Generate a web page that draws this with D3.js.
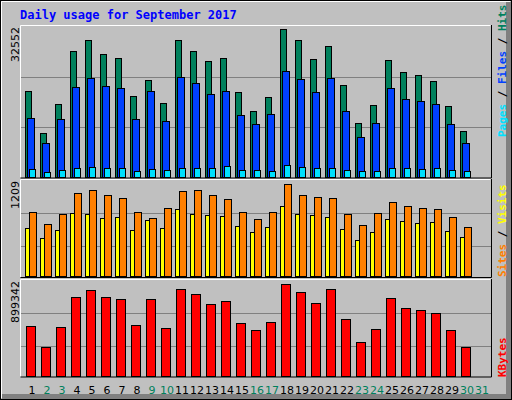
<!DOCTYPE html>
<html><head><meta charset="utf-8">
<script src="https://cdn.jsdelivr.net/npm/d3@7"></script>
<style>body{margin:0;background:#fff}</style>
</head><body>
<script>
const days = d3.range(1, 32)
const weekends = [2, 3, 9, 10, 16, 17, 23, 24, 30, 31]
const hits = [18923, 9583, 15986, 27688, 30117, 27026, 26143, 17752, 21285, 16207, 30117, 27688, 25480, 26143, 18636, 14440, 17532, 32552, 30117, 25922, 28792, 20181, 11791, 15765, 25701, 23052, 22389, 21064, 15544, 10024]
const files = [12895, 7375, 12674, 19740, 21727, 19960, 19519, 12674, 18856, 12232, 21948, 20623, 18194, 18856, 13557, 11570, 13778, 23272, 21506, 18636, 21727, 14440, 8700, 11791, 19519, 17090, 16648, 15986, 11570, 7375]
const pages = [1634, 972, 1413, 1855, 2076, 1855, 1855, 1192, 1634, 1413, 1855, 1855, 1855, 2296, 1413, 1413, 1192, 2517, 2076, 1855, 1855, 1413, 1192, 1192, 1855, 1855, 1634, 1855, 1413, 1192]
const sites = [633, 501, 606, 826, 813, 761, 774, 606, 734, 633, 879, 813, 800, 787, 655, 576, 642, 919, 813, 800, 774, 616, 471, 576, 747, 721, 695, 708, 589, 510]
const visits = [840, 681, 813, 1090, 1130, 1064, 1024, 840, 761, 892, 1116, 1130, 1064, 1011, 840, 747, 840, 1209, 1064, 1037, 1024, 813, 668, 826, 971, 919, 892, 879, 774, 642]
const kbytes = [484000, 277000, 474000, 771000, 840000, 771000, 751000, 494000, 751000, 464000, 850000, 800000, 702000, 731000, 514000, 445000, 524000, 899342, 820000, 712000, 850000, 553000, 326000, 455000, 761000, 662000, 642000, 613000, 445000, 277000]

const W = 512, H = 400
const svg = d3.select('body').append('svg').attr('width', W).attr('height', H)
    .style('font-family', 'DejaVu Sans Mono, monospace')

svg.append('rect').attr('width', W).attr('height', H).attr('fill', '#c0c0c0')
svg.append('rect').attr('x', .5).attr('y', .5).attr('width', W - 1).attr('height', H - 1).attr('fill', 'none').attr('stroke', '#000')
svg.append('path').attr('d', `M1.5,${H - 2}V1.5H${W - 2}`).attr('stroke', '#fff').attr('fill', 'none')
svg.append('rect').attr('x', W - 6).attr('y', 2).attr('width', 5).attr('height', H - 3).attr('fill', '#808080')
svg.append('rect').attr('x', 2).attr('y', H - 6).attr('width', W - 3).attr('height', 5).attr('fill', '#808080')

svg.append('text').attr('x', 20).attr('y', 19).text('Daily usage for September 2017')
    .attr('fill', '#0000ff').attr('font-weight', 'bold').attr('font-size', 12)

const x = d3.scaleBand().domain(days).range([24, 24 + 31 * 15])

function panel(top, bottom, maxTop, max, label, gridStep) {
    svg.append('path').attr('d', `M20.5,${bottom}V${top + .5}H490.5`).attr('stroke', '#fff').attr('fill', 'none')
    svg.append('path').attr('d', `M20.5,${bottom + .5}H491.5V${top}`).attr('stroke', '#000').attr('fill', 'none')
    for (let i = 1; i <= 2; i++) {
        const gy = Math.round(top + 1 + i * gridStep) + .5
        svg.append('line').attr('x1', 21).attr('x2', 491).attr('y1', gy).attr('y2', gy).attr('stroke', '#808080')
    }
    svg.append('text').attr('transform', `translate(19,${top + 2}) rotate(-90)`).attr('text-anchor', 'end')
        .attr('font-size', 11).attr('fill', '#000').attr('font-family', 'DejaVu Sans, sans-serif').text(label)
    return d3.scaleLinear().domain([0, max]).range([bottom - 1, maxTop])
}

function bars(y, data, off, w, color) {
    svg.append('g').selectAll('rect').data(data).join('rect')
        .attr('x', (d, i) => x(days[i]) + off + .5)
        .attr('y', d => Math.round(y(d)) + .5)
        .attr('width', w)
        .attr('height', d => Math.round(y(0)) - Math.round(y(d)))
        .attr('fill', color).attr('stroke', '#000')
}

const y1 = panel(25, 177.5, 29.3, 32552, '32552', 50.5)
bars(y1, hits, 1, 6, '#00805c')
bars(y1, files, 3, 7, '#0040ff')
bars(y1, pages, 5, 6, '#00e0ff')

const y2 = panel(179, 277, 184.3, 1209, '1209', 33)
bars(y2, sites, 1, 5, '#ffff00')
bars(y2, visits, 5, 7, '#ff8000')

const y3 = panel(279, 376.5, 284.3, 899342, '899342', 33)
bars(y3, kbytes, 2, 9, '#ff0000')

svg.append('g').selectAll('text').data(days).join('text')
    .attr('x', d => x(d) + 8).attr('y', 394).attr('text-anchor', 'middle')
    .attr('font-size', 11).attr('font-family', 'DejaVu Sans, sans-serif')
    .attr('fill', d => weekends.includes(d) ? '#00805c' : '#000').text(d => d)

function sideLabel(yPos, parts) {
    const t = svg.append('text').attr('transform', `translate(503,${yPos}) rotate(-90)`)
        .attr('font-size', 11).attr('font-weight', 'bold').attr('dominant-baseline', 'middle')
    parts.forEach(([s, c]) => t.append('tspan').text(s).attr('fill', c))
}
sideLabel(137, [['Pages', '#00e0ff'], [' / ', '#000'], ['Files', '#0040ff'], [' / ', '#000'], ['Hits', '#00805c']])
sideLabel(277, [['Sites', '#ff8000'], [' / ', '#000'], ['Visits', '#ffff00']])
sideLabel(377, [['KBytes', '#ff0000']])
</script>
</body></html>
